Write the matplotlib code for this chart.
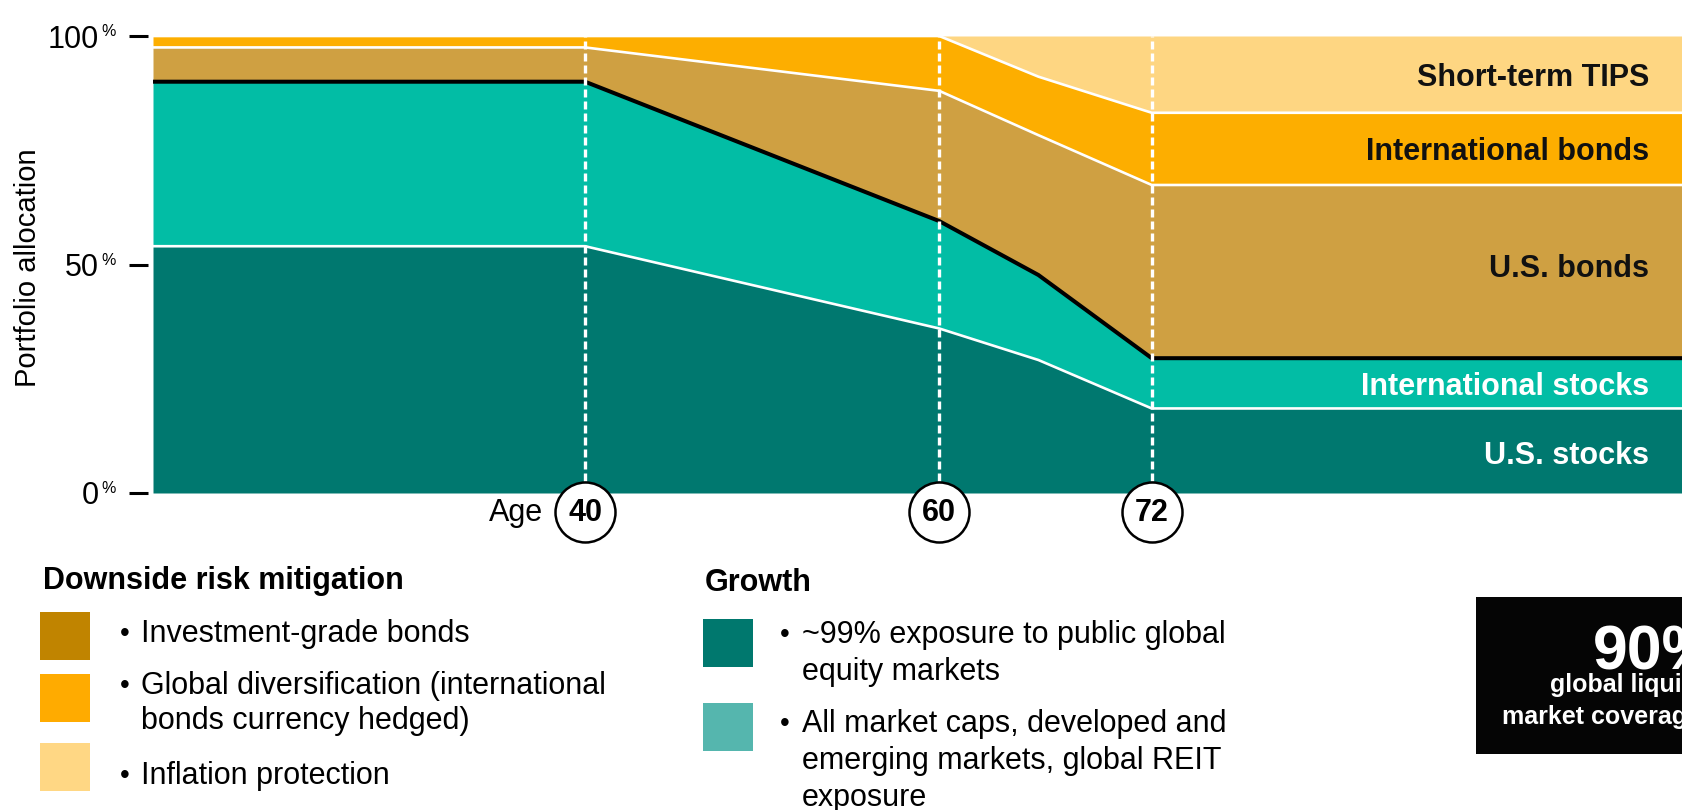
import matplotlib
matplotlib.use("Agg")
import matplotlib.pyplot as plt
from matplotlib.patches import Rectangle

plt.rcParams['font.family'] = ['Liberation Sans', 'DejaVu Sans']

W, H = 1683, 810

# glide path (percent of portfolio) by age
ages = [15.6, 40, 60, 65.6, 72, 102]
us_stocks = [54.0, 54.0, 36.0, 29.1, 18.5, 18.5]
intl_stocks = [36.0, 36.0, 23.5, 18.6, 11.0, 11.0]
us_bonds = [7.5, 7.5, 28.5, 30.6, 37.9, 37.9]
intl_bonds = [2.5, 2.5, 12.0, 12.8, 15.8, 15.8]
tips = [0.0, 0.0, 0.0, 8.9, 16.8, 16.8]

milestones = [40, 60, 72]
band_labels = ['U.S. stocks', 'International stocks', 'U.S. bonds',
               'International bonds', 'Short-term TIPS']
band_label_y = [8.1, 23.1, 49.0, 74.6, 90.8]
band_colors = ['#00786f', '#02bda5', '#cfa042', '#fdae00', '#fed682']
label_colors = ['white', 'white', '#111111', '#111111', '#111111']

risk_colors = ['#c08400', '#ffab00', '#ffd784']
risk_items = ['Investment-grade bonds',
              'Global diversification (international\nbonds currency hedged)',
              'Inflation protection']
growth_colors = ['#00786e', '#55b6ae']
growth_items = ['~99% exposure to public global\nequity markets',
                'All market caps, developed and\nemerging markets, global REIT\nexposure']


def fx(x):
    return x / W


def fy(y):
    return 1 - y / H


fig = plt.figure(figsize=(W / 100, H / 100), dpi=100)
ax = fig.add_axes([fx(153), fy(493), (W - 153) / W, 457 / H])
ax.set_xlim(ages[0], ages[-1])
ax.set_ylim(0, 100)

series = [us_stocks, intl_stocks, us_bonds, intl_bonds, tips]
bottom = [0.0] * len(ages)
tops = []
for vals, c in zip(series, band_colors):
    top = [b + v for b, v in zip(bottom, vals)]
    ax.fill_between(ages, bottom, top, color=c, lw=0, zorder=1)
    tops.append(top)
    bottom = top

# boundaries between bands
for i, top in enumerate(tops[:-1]):
    if i == 1:
        ax.plot(ages, top, color='black', lw=2.9, zorder=3, solid_capstyle='butt')
    else:
        ax.plot(ages, top, color='white', lw=1.9, zorder=2, solid_capstyle='butt')

# band labels at right edge
for lab, y, col in zip(band_labels, band_label_y, label_colors):
    ax.text(100.1, y, lab, ha='right', va='center', fontsize=22,
            fontweight='bold', color=col, zorder=4)

# milestone ages
for a in milestones:
    ax.plot([a, a], [0, 100], color='white', lw=2.4, ls=(0, (2.4, 1.2)),
            zorder=4, clip_on=False)
ax.scatter(milestones, [-4.16] * len(milestones), s=1866, facecolor='white',
           edgecolor='black', lw=1.8, clip_on=False, zorder=5)
for a in milestones:
    ax.text(a, -4.4, str(a), ha='center', va='center', fontsize=22,
            fontweight='bold', zorder=6, clip_on=False)
ax.text(37.6, -4.4, 'Age', ha='right', va='center', fontsize=22, clip_on=False)

# y axis
for s in ax.spines.values():
    s.set_visible(False)
ax.spines['left'].set_position(('outward', 3.6))
ax.set_xticks([])
ax.set_yticks([0, 50, 100])
ax.set_yticklabels(['0', '50', '100'], fontsize=22)
ax.tick_params(axis='y', length=13.7, width=2.2, pad=22, color='black')
for v in [0, 50, 100]:
    ax.text(-0.0335, v + 0.9, '%', fontsize=11.5, ha='left', va='center',
            transform=ax.get_yaxis_transform(), clip_on=False)
fig.text(fx(28), fy(268), 'Portfolio allocation', rotation=90, ha='center',
         va='center', fontsize=21)

# legend blocks
fig.text(fx(43), fy(581), 'Downside risk mitigation', fontsize=22,
         fontweight='bold', va='center')
risk_tops = [612, 674, 743]
risk_text = [634, 686, 776]
for c, item, t, ty in zip(risk_colors, risk_items, risk_tops, risk_text):
    fig.add_artist(Rectangle((fx(40), fy(t + 48)), 50 / W, 48 / H, color=c, lw=0))
    fig.text(fx(120), fy(ty), '•', fontsize=20, va='center')
    for k, line in enumerate(item.split('\n')):
        fig.text(fx(141), fy(ty + 35 * k), line, fontsize=22, va='center')

fig.text(fx(705), fy(583), 'Growth', fontsize=22, fontweight='bold', va='center')
growth_tops = [619, 703]
growth_text = [635, 724]
for c, item, t, ty in zip(growth_colors, growth_items, growth_tops, growth_text):
    fig.add_artist(Rectangle((fx(703), fy(t + 48)), 50 / W, 48 / H, color=c, lw=0))
    fig.text(fx(780), fy(ty), '•', fontsize=20, va='center')
    for k, line in enumerate(item.split('\n')):
        fig.text(fx(802), fy(ty + 37 * k), line, fontsize=22, va='center')

# coverage callout (cropped at right edge, as in the source)
fig.add_artist(Rectangle((fx(1476), fy(754)), (W - 1476) / W + 0.01, 157 / H,
                         color='#050505', lw=0))
fig.text(fx(1593), fy(670), '90%', fontsize=45, fontweight='bold',
         color='white', va='baseline')
fig.text(fx(1550), fy(692), 'global liquid', fontsize=18, fontweight='bold',
         color='white', va='baseline')
fig.text(fx(1502), fy(724), 'market coverage', fontsize=18, fontweight='bold',
         color='white', va='baseline')

fig.savefig('out.png', dpi=100)
